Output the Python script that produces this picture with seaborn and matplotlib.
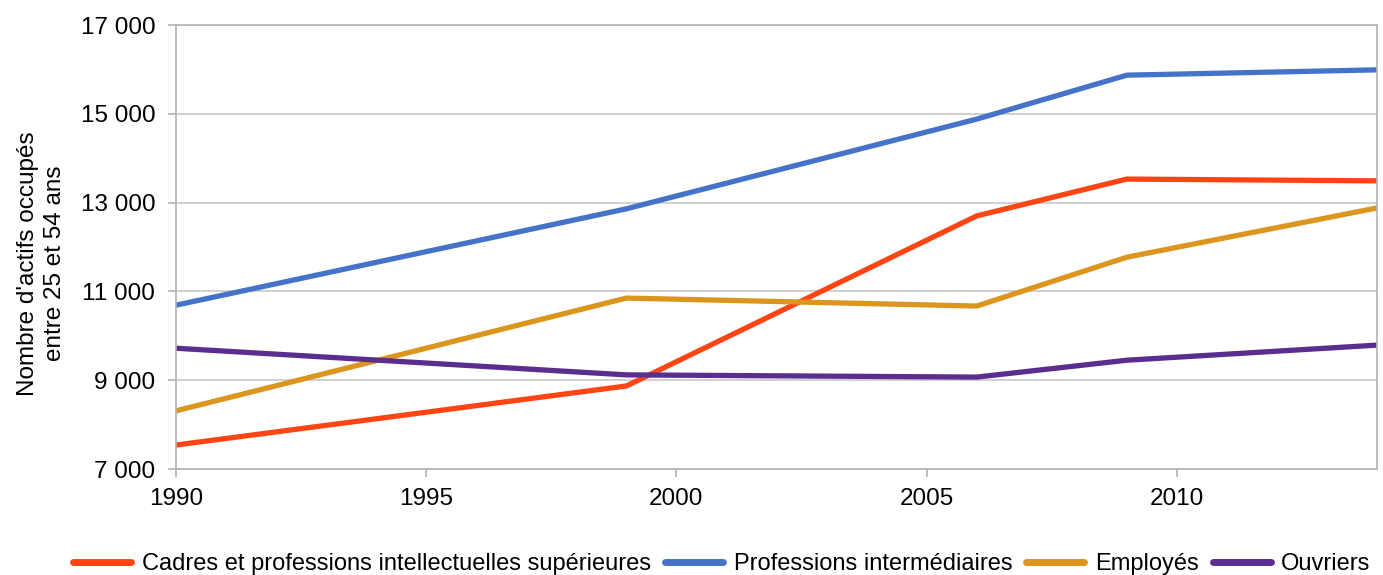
import matplotlib
matplotlib.use("Agg")
import matplotlib.pyplot as plt
import seaborn as sns
import pandas as pd

years = [1990, 1999, 2006, 2009, 2014]
cadres = [7540, 8870, 12700, 13530, 13490]
prof_inter = [10690, 12860, 14880, 15870, 15990]
employes = [8310, 10850, 10670, 11770, 12880]
ouvriers = [9720, 9120, 9070, 9450, 9790]

series_names = ["Cadres et professions intellectuelles supérieures",
                "Professions intermédiaires", "Employés", "Ouvriers"]
colors = ["#FF4514", "#4573C9", "#DC951F", "#5B2D8E"]

y_ticks = [7000, 9000, 11000, 13000, 15000, 17000]
x_ticks = [1990, 1995, 2000, 2005, 2010]

rows = []
for name, vals in zip(series_names, [cadres, prof_inter, employes, ouvriers]):
    for yr, v in zip(years, vals):
        rows.append({"year": yr, "value": v, "serie": name})
df = pd.DataFrame(rows)

sns.set_theme(style="white")
plt.rcParams['font.family'] = ['Liberation Sans', 'DejaVu Sans']
plt.rcParams['text.color'] = 'black'
plt.rcParams['axes.labelcolor'] = 'black'
FS = 17.5

fig = plt.figure(figsize=(13.83, 5.75), dpi=100)
ax = fig.add_axes([176/1383, 1-469/575, (1377-176)/1383, (469-25)/575])

sns.lineplot(data=df, x="year", y="value", hue="serie", hue_order=series_names,
             palette=colors, linewidth=3.8, ax=ax, legend=True)

ax.set_xlim(1990, 2014)
ax.set_ylim(7000, 17000)
ax.set_xticks(x_ticks)
ax.set_yticks(y_ticks)
ax.set_yticklabels([f"{v:,}".replace(",", " ") for v in y_ticks], fontsize=FS)
ax.set_xticklabels([str(v) for v in x_ticks], fontsize=FS)
ax.yaxis.grid(True, color="#C8C8C8", linewidth=1.2)
ax.set_axisbelow(True)
for s in ax.spines.values():
    s.set_color("#B3B3B3")
    s.set_linewidth(1.2)
ax.tick_params(axis="both", which="both", direction="out", length=6, width=1.2,
               color="#B3B3B3", labelcolor="black", bottom=True, left=True)
ax.tick_params(axis="y", pad=9)
ax.tick_params(axis="x", pad=8)
ax.set_xlabel("")
ax.set_ylabel("Nombre d'actifs occupés\nentre 25 et 54 ans", fontsize=FS,
              linespacing=1.3, color="black")
ax.yaxis.set_label_coords((66 - 176) / 1201, 0.463)

handles, labels = ax.get_legend_handles_labels()
ax.legend(handles, labels, loc="center", bbox_to_anchor=((722 - 176) / 1201, (469 - 564) / 444),
          ncol=4, frameon=False, fontsize=17, handlelength=2.45, handletextpad=0.45,
          columnspacing=0.6, borderpad=0, borderaxespad=0, labelcolor="black")
for line in ax.get_legend().get_lines():
    line.set_linewidth(5)

fig.savefig("out.png", dpi=100)
